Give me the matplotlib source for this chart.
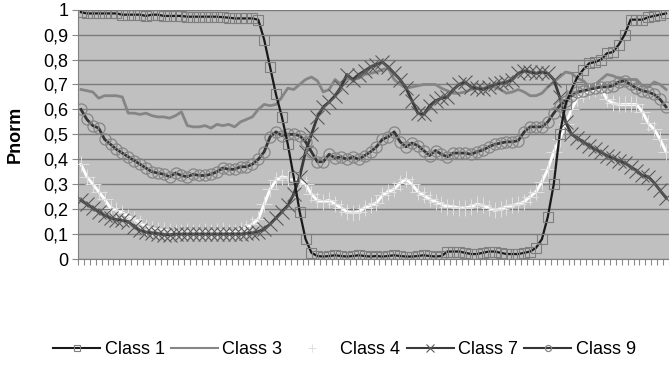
import matplotlib
matplotlib.use("Agg")
import matplotlib.pyplot as plt
import numpy as np

plt.rcParams['font.family'] = ['Liberation Sans', 'DejaVu Sans']

class1 = [0.99, 0.985, 0.985, 0.985, 0.985, 0.985, 0.985, 0.98, 0.98, 0.98,
          0.98, 0.975, 0.98, 0.98, 0.975, 0.975, 0.975, 0.975, 0.972, 0.972,
          0.972, 0.972, 0.972, 0.972, 0.97, 0.968, 0.965, 0.965, 0.965, 0.965,
          0.96, 0.88, 0.77, 0.66, 0.57, 0.46, 0.33, 0.19, 0.08, 0.025,
          0.012, 0.01, 0.012, 0.015, 0.012, 0.01, 0.012, 0.015, 0.012, 0.01,
          0.012, 0.01, 0.012, 0.015, 0.012, 0.01, 0.01, 0.012, 0.015, 0.012,
          0.01, 0.012, 0.03, 0.03, 0.03, 0.025, 0.02, 0.02, 0.025, 0.03,
          0.03, 0.025, 0.02, 0.02, 0.02, 0.025, 0.03, 0.045, 0.08, 0.17,
          0.30, 0.50, 0.62, 0.68, 0.73, 0.76, 0.785, 0.79, 0.80, 0.825,
          0.83, 0.86, 0.90, 0.96, 0.96, 0.96, 0.97, 0.975, 0.98, 0.985]

class3 = [0.68, 0.675, 0.67, 0.645, 0.655, 0.655, 0.655, 0.65, 0.585, 0.585,
          0.58, 0.585, 0.575, 0.57, 0.57, 0.565, 0.575, 0.59, 0.535, 0.53,
          0.53, 0.535, 0.525, 0.54, 0.535, 0.54, 0.53, 0.55, 0.56, 0.57,
          0.60, 0.62, 0.615, 0.62, 0.65, 0.685, 0.68, 0.70, 0.72, 0.73,
          0.715, 0.67, 0.68, 0.72, 0.70, 0.725, 0.72, 0.725, 0.74, 0.745,
          0.75, 0.76, 0.765, 0.72, 0.70, 0.685, 0.69, 0.695, 0.70, 0.70,
          0.70, 0.685, 0.675, 0.665, 0.665, 0.67, 0.68, 0.685, 0.685, 0.69,
          0.69, 0.68, 0.665, 0.67, 0.68, 0.67, 0.655, 0.655, 0.665, 0.69,
          0.71, 0.73, 0.75, 0.745, 0.725, 0.715, 0.69, 0.70, 0.72, 0.74,
          0.735, 0.725, 0.72, 0.72, 0.72, 0.695, 0.69, 0.71, 0.70, 0.68]

class4 = [0.38, 0.33, 0.30, 0.27, 0.24, 0.205, 0.195, 0.185, 0.17, 0.16,
          0.145, 0.13, 0.12, 0.118, 0.115, 0.112, 0.11, 0.11, 0.112, 0.11,
          0.11, 0.112, 0.11, 0.112, 0.115, 0.11, 0.11, 0.115, 0.125, 0.14,
          0.16, 0.22, 0.28, 0.315, 0.33, 0.325, 0.315, 0.315, 0.30, 0.26,
          0.235, 0.23, 0.235, 0.22, 0.205, 0.19, 0.185, 0.19, 0.205, 0.215,
          0.225, 0.255, 0.27, 0.28, 0.305, 0.32, 0.30, 0.27, 0.255, 0.24,
          0.23, 0.22, 0.21, 0.21, 0.205, 0.205, 0.21, 0.22, 0.215, 0.205,
          0.195, 0.20, 0.21, 0.215, 0.22, 0.23, 0.25, 0.27, 0.31, 0.36,
          0.43, 0.48, 0.54, 0.60, 0.645, 0.66, 0.675, 0.68, 0.685, 0.64,
          0.625, 0.62, 0.62, 0.62, 0.62, 0.59, 0.545, 0.52, 0.48, 0.43]

class7 = [0.235, 0.22, 0.205, 0.19, 0.175, 0.165, 0.158, 0.155, 0.15, 0.13,
          0.115, 0.108, 0.105, 0.102, 0.098, 0.097, 0.10, 0.10, 0.10, 0.10,
          0.10, 0.10, 0.10, 0.10, 0.10, 0.10, 0.10, 0.10, 0.103, 0.105,
          0.11, 0.12, 0.14, 0.165, 0.19, 0.215, 0.26, 0.33, 0.43, 0.50,
          0.57, 0.61, 0.63, 0.655, 0.69, 0.74, 0.72, 0.74, 0.755, 0.77,
          0.78, 0.79, 0.77, 0.745, 0.72, 0.685, 0.635, 0.585, 0.58, 0.615,
          0.635, 0.645, 0.65, 0.68, 0.70, 0.71, 0.69, 0.685, 0.68, 0.69,
          0.70, 0.705, 0.71, 0.72, 0.745, 0.755, 0.75, 0.745, 0.75, 0.745,
          0.72, 0.65, 0.55, 0.50, 0.485, 0.47, 0.455, 0.44, 0.428, 0.415,
          0.405, 0.395, 0.385, 0.37, 0.355, 0.335, 0.33, 0.305, 0.275, 0.245]

class9 = [0.60, 0.56, 0.535, 0.525, 0.48, 0.46, 0.44, 0.425, 0.41, 0.395,
          0.38, 0.365, 0.35, 0.345, 0.34, 0.33, 0.345, 0.335, 0.33, 0.34,
          0.335, 0.335, 0.34, 0.35, 0.365, 0.36, 0.36, 0.37, 0.37, 0.38,
          0.40, 0.43, 0.49, 0.51, 0.495, 0.50, 0.50, 0.495, 0.47, 0.43,
          0.39, 0.39, 0.42, 0.405, 0.41, 0.40, 0.41, 0.40, 0.415, 0.43,
          0.45, 0.48, 0.49, 0.51, 0.47, 0.45, 0.465, 0.455, 0.435, 0.415,
          0.435, 0.42, 0.41, 0.425, 0.425, 0.425, 0.42, 0.43, 0.437, 0.45,
          0.46, 0.465, 0.47, 0.47, 0.475, 0.51, 0.53, 0.53, 0.53, 0.55,
          0.585, 0.615, 0.635, 0.655, 0.67, 0.675, 0.68, 0.685, 0.69, 0.69,
          0.695, 0.71, 0.715, 0.70, 0.685, 0.675, 0.67, 0.66, 0.64, 0.61]

y_ticks = [0, 0.1, 0.2, 0.3, 0.4, 0.5, 0.6, 0.7, 0.8, 0.9, 1.0]
y_tick_labels = ["0", "0,1", "0,2", "0,3", "0,4", "0,5", "0,6", "0,7", "0,8", "0,9", "1"]
series_names = ["Class 1", "Class 3", "Class 4", "Class 7", "Class 9"]

fig = plt.figure(figsize=(6.69, 3.66), dpi=100)
ax = fig.add_axes([0.1166, 0.2923, 0.8834, 0.6812])
ax.set_facecolor('#c0c0c0')

x = np.arange(len(class1))

ax.plot(x, class1, color='#1a1a1a', lw=1.6, marker='s', ms=7.5, mfc='none',
        mec='#7f7f7f', mew=0.8, label=series_names[0], zorder=5)
ax.plot(x, class3, color='#858585', lw=2.0, label=series_names[1], zorder=3)
ax.plot(x, class4, color='#ffffff', lw=2.0, marker='+', ms=11, mec='#e0e0e0',
        mew=0.7, label=series_names[2], zorder=4)
ax.plot(x, class7, color='#3a3a3a', lw=2.0, marker='x', ms=10, mec='#5a5a5a',
        mew=0.8, label=series_names[3], zorder=4)
ax.plot(x, class9, color='#353535', lw=2.0, marker='o', ms=8, mfc='none',
        mec='#858585', mew=0.9, label=series_names[4], zorder=4)

ax.set_xlim(-0.5, len(class1) - 0.5)
ax.set_ylim(0, 1)
ax.set_yticks(y_ticks)
ax.set_yticklabels(y_tick_labels, fontsize=13)
ax.set_xticks(np.arange(-0.5, len(class1), 1.0))
ax.set_xticklabels([])
ax.tick_params(axis='x', direction='out', length=4, width=0.8, color='#8a8a8a')
ax.tick_params(axis='y', direction='out', length=4, width=0.8, color='#8a8a8a', pad=3)
ax.yaxis.grid(True, color='#7a7a7a', lw=1.0)
ax.set_axisbelow(True)
for s in ['top', 'right']:
    ax.spines[s].set_visible(False)
for s in ['left', 'bottom']:
    ax.spines[s].set_color('#808080')
    ax.spines[s].set_linewidth(0.8)

ax.set_ylabel('Pnorm', fontsize=13, fontweight='bold', labelpad=14)

leg = fig.legend(loc='center', bbox_to_anchor=(0.515, 0.045), ncol=5, frameon=False,
                 fontsize=13, handlelength=2.6, columnspacing=0.35, handletextpad=0.25,
                 markerscale=0.55)
for line in leg.get_lines():
    line.set_linewidth(1.5)

fig.savefig('out.png', dpi=100)
